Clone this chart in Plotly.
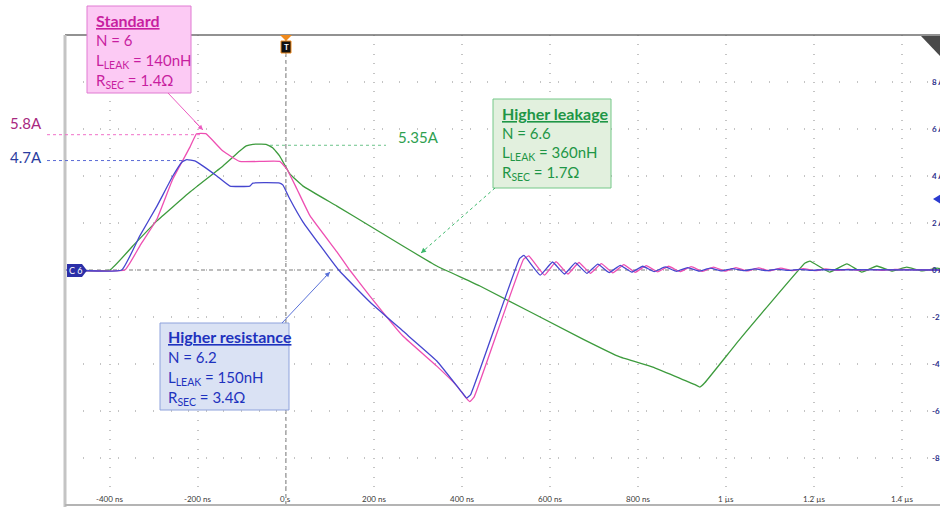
import plotly.graph_objects as go

std_t = [-502, -366, -332, -293, -257, -218, -203, -182, -143, -105, -14, 2, 25, 55, 116, 145, 191, 266, 343,
         389, 410, 418, 428, 540, 552, 588, 614, 641, 666, 692, 717, 743, 768, 794, 819, 845, 870, 896, 921,
         947, 972, 998, 1023, 1049, 1074, 1100, 1125, 1151, 1176, 1202, 1227, 1253, 1278, 1304, 1329, 1355,
         1380, 1490]
std_i = [0, 0, 1.02, 2.17, 3.87, 5.23, 5.8, 5.8, 5.06, 4.62, 4.62, 4.30, 3.45, 2.30, 0.77, 0, -1.11, -2.81,
         -4.09, -4.94, -5.45, -5.6, -5.4, 0.45, 0.6, -0.22, 0.36, -0.17, 0.32, -0.14, 0.27, -0.12, 0.23, -0.10,
         0.19, -0.08, 0.16, -0.07, 0.14, -0.06, 0.12, -0.05, 0.10, -0.04, 0.09, -0.04, 0.08, -0.03, 0.06, -0.03,
         0.05, -0.02, 0.04, -0.02, 0.03, -0.01, 0.02, 0]

res_t = [-502, -373, -332, -293, -257, -236, -225, -207, -189, -157, -127, -82, -75, -14, -7, 9, 39, 120, 191,
         266, 343, 400, 411, 420, 531, 541, 578, 606, 633, 658, 684, 709, 735, 760, 786, 811, 837, 862, 888,
         913, 939, 964, 990, 1015, 1041, 1066, 1092, 1117, 1143, 1168, 1194, 1219, 1490]
res_i = [0, 0, 1.45, 2.72, 4.0, 4.6, 4.7, 4.64, 4.43, 4.0, 3.57, 3.57, 3.70, 3.70, 3.62, 3.02, 2.04, 0, -1.36,
         -2.6, -3.87, -5.2, -5.45, -5.3, 0.48, 0.62, -0.22, 0.34, -0.17, 0.30, -0.14, 0.25, -0.11, 0.20, -0.09,
         0.16, -0.07, 0.13, -0.06, 0.10, -0.05, 0.08, -0.04, 0.06, -0.03, 0.05, -0.03, 0.04, -0.02, 0.03, -0.02,
         0.02, 0]

leak_t = [-502, -400, -348, -293, -218, -143, -105, -90, -75, -45, -30, -14, 9, 39, 116, 191, 266, 343, 441,
          675, 759, 834, 930, 941, 952, 1032, 1180, 1191, 1236, 1275, 1309, 1343, 1377, 1411, 1445, 1480, 1490]
leak_i = [0, 0, 1.02, 2.09, 3.32, 4.43, 5.06, 5.28, 5.35, 5.35, 5.2, 4.85, 4.09, 3.57, 2.72, 1.87, 1.02, 0.17,
          -0.68, -2.94, -3.70, -4.13, -4.88, -4.98, -4.8, -2.94, 0.3, 0.38, -0.09, 0.26, -0.09, 0.17, -0.05,
          0.12, -0.04, 0.08, 0.05]

x_ticks = [-400, -200, 0, 200, 400, 600, 800, 1000, 1200, 1400]
x_tick_text = ["-400 ns", "-200 ns", "0 s", "200 ns", "400 ns", "600 ns", "800 ns", "1 µs", "1.2 µs", "1.4 µs"]
y_ticks = [8, 6, 4, 2, 0, -2, -4, -6, -8]
y_tick_text = ["8 A", "6 A", "4 A", "2 A", "0 A", "-2 A", "-4 A", "-6 A", "-8 A"]

peak_std, peak_res, peak_leak = 5.8, 4.7, 5.35

W, H = 940, 507
L, R, T, B = 65, 0, 35, 2
X0 = -502
X1 = X0 + (W - L - R) / 88 * 200

PINK = "#ee4fb2"
BLUE = "#4646cf"
GREEN = "#3d9b3d"
FONT = "Lato"


def px(x):
    return (x - L) / (W - L - R)


def py(y):
    return (H - B - y) / (H - T - B)


fig = go.Figure()
for t, i, col in [(leak_t, leak_i, GREEN), (std_t, std_i, PINK), (res_t, res_i, BLUE)]:
    fig.add_trace(go.Scatter(x=t, y=i, mode="lines", line=dict(color=col, width=1.3, shape="spline", smoothing=0.3),
                             hoverinfo="skip"))

shapes = [
    # centre cross
    dict(type="line", xref="x", yref="paper", x0=0, x1=0, y0=0, y1=1,
         line=dict(color="#8a8a8a", width=1.2, dash="4px,3px"), layer="below"),
    dict(type="line", xref="paper", yref="y", x0=0, x1=1, y0=0, y1=0,
         line=dict(color="#a6a6a6", width=1.6, dash="4px,4px"), layer="below"),
    # frame
    dict(type="line", xref="paper", yref="paper", x0=0, x1=1, y0=1, y1=1, line=dict(color="#6e6e6e", width=1.5)),
    dict(type="line", xref="paper", yref="paper", x0=0, x1=0, y0=py(507), y1=1, line=dict(color="#c4c4c4", width=3)),
    dict(type="line", xref="paper", yref="paper", x0=0, x1=1, y0=0, y1=0, line=dict(color="#b4b4b4", width=2)),
    # peak reference lines
    dict(type="line", xref="paper", yref="paper", x0=px(47), x1=px(201), y0=py(271 - peak_std * 23.5),
         y1=py(271 - peak_std * 23.5), line=dict(color="#f070c8", width=1, dash="dot")),
    dict(type="line", xref="paper", yref="paper", x0=px(47), x1=px(186), y0=py(271 - peak_res * 23.5),
         y1=py(271 - peak_res * 23.5), line=dict(color="#5a6ad6", width=1, dash="dot")),
    dict(type="line", xref="paper", yref="paper", x0=px(270), x1=px(386), y0=py(271 - peak_leak * 23.5),
         y1=py(271 - peak_leak * 23.5), line=dict(color="#6cc48a", width=1, dash="dot")),
    # label boxes
    dict(type="rect", xref="paper", yref="paper", x0=px(87), x1=px(191), y0=py(6), y1=py(93),
         fillcolor="#fccaf4", line=dict(color="#e07ad2", width=1)),
    dict(type="rect", xref="paper", yref="paper", x0=px(493), x1=px(611), y0=py(99), y1=py(188),
         fillcolor="#e2f0de", line=dict(color="#74c888", width=1)),
    dict(type="rect", xref="paper", yref="paper", x0=px(160), x1=px(289), y0=py(323), y1=py(410),
         fillcolor="#dae2f4", line=dict(color="#8ea2dc", width=1)),
    # pointer lines
    dict(type="line", xref="paper", yref="paper", x0=px(168), y0=py(93), x1=px(203), y1=py(130),
         line=dict(color="#ec5cc0", width=1)),
    dict(type="line", xref="paper", yref="paper", x0=px(495), y0=py(188), x1=px(421), y1=py(253),
         line=dict(color="#3cb86a", width=1, dash="dot")),
    dict(type="line", xref="paper", yref="paper", x0=px(282), y0=py(323), x1=px(330), y1=py(272),
         line=dict(color="#5a72d8", width=1)),
    # trigger marker
    dict(type="path", xref="paper", yref="paper",
         path=f"M {px(280)},{py(35)} L {px(292)},{py(35)} L {px(286)},{py(41)} Z",
         fillcolor="#f08a1c", line=dict(width=0)),
    dict(type="rect", xref="paper", yref="paper", x0=px(281), x1=px(291), y0=py(41), y1=py(53),
         fillcolor="#111111", line=dict(color="#f08a1c", width=1)),
    # channel tag
    dict(type="path", xref="paper", yref="paper",
         path=(f"M {px(67)},{py(264)} L {px(82)},{py(264)} L {px(87)},{py(270.5)} "
               f"L {px(82)},{py(277)} L {px(67)},{py(277)} Z"),
         fillcolor="#2b2fa8", line=dict(width=0)),
    # corner icon and level marker
    dict(type="path", xref="paper", yref="paper",
         path=f"M {px(921)},{py(36)} L {px(940)},{py(36)} L {px(940)},{py(56)} Z",
         fillcolor="#4a4a4a", line=dict(width=0)),
    dict(type="path", xref="paper", yref="paper",
         path=f"M {px(933)},{py(199)} L {px(941)},{py(194)} L {px(941)},{py(204)} Z",
         fillcolor="#2b3bd0", line=dict(width=0)),
]

annotations = []


def text(x, y, s, color, size=15, anchor="left"):
    annotations.append(dict(x=px(x), y=py(y), xref="paper", yref="paper", text=s, showarrow=False,
                            xanchor=anchor, yanchor="middle", font=dict(family=FONT, size=size, color=color)))


def head(x0, y0, x1, y1, color):
    annotations.append(dict(x=px(x1), y=py(y1), xref="paper", yref="paper", ax=x0 - x1, ay=y0 - y1,
                            axref="pixel", ayref="pixel", text=" ", showarrow=True, arrowhead=2,
                            arrowsize=1, arrowwidth=1, arrowcolor=color))


# box texts
c = "#c81ea0"
text(94, 20, "<b><u>Standard</u></b>", c, size=16)
text(94, 40, "N = 6", c)
text(94, 61, "L<sub>LEAK</sub> = 140nH", c)
text(94, 81, "R<sub>SEC</sub> = 1.4Ω", c)
c = "#1e9646"
text(500, 113, "<b><u>Higher leakage</u></b>", c, size=16)
text(500, 133, "N = 6.6", c)
text(500, 153, "L<sub>LEAK</sub> = 360nH", c)
text(500, 173, "R<sub>SEC</sub> = 1.7Ω", c)
c = "#1e32be"
text(166, 337, "<b><u>Higher resistance</u></b>", c, size=16)
text(166, 357, "N = 6.2", c)
text(166, 378, "L<sub>LEAK</sub> = 150nH", c)
text(166, 398, "R<sub>SEC</sub> = 3.4Ω", c)

# peak labels
text(8, 123, "5.8A", "#a8287f")
text(8, 157, "4.7A", "#2a3ca0")
text(396, 137, "5.35A", "#2ea050")

head(191, 118, 203, 130, "#ec5cc0")
head(428, 247, 421, 253, "#3cb86a")
head(322, 280, 330, 272, "#5a72d8")

# marker texts
text(286, 47, "<b>T</b>", "#ffffff", size=8, anchor="center")
text(76, 270.5, "C 6", "#ffffff", size=9, anchor="center")

# axis labels inside the graticule
for v, s in zip(x_ticks, x_tick_text):
    annotations.append(dict(x=v, y=py(499), xref="x", yref="paper", text=s, showarrow=False,
                            xanchor="center", yanchor="middle",
                            font=dict(family=FONT, size=8, color="#3a3a3a")))
for v, s in zip(y_ticks, y_tick_text):
    annotations.append(dict(x=px(930), y=v, xref="paper", yref="y", text="<b>" + s + "</b>", showarrow=False,
                            xanchor="left", yanchor="middle",
                            font=dict(family=FONT, size=8, color="#2b2f8a")))

fig.update_layout(
    width=W,
    height=H,
    margin=dict(l=L, r=R, t=T, b=B),
    paper_bgcolor="white",
    plot_bgcolor="white",
    showlegend=False,
    shapes=shapes,
    annotations=annotations,
    xaxis=dict(range=[X0, X1], tickvals=x_ticks, showticklabels=False, showgrid=True,
               gridcolor="#c4c4c4", gridwidth=1.5, griddash="1px,8.4px", zeroline=False, showline=False,
               ticks="", fixedrange=True),
    yaxis=dict(range=[-10, 10], tickvals=y_ticks, showticklabels=False, showgrid=True,
               gridcolor="#c4c4c4", gridwidth=1.5, griddash="1px,16.6px", zeroline=False, showline=False,
               ticks="", fixedrange=True),
)

# drop the default page margin so the figure sits at the window's corner
fig.write_html("out.html", config={"displayModeBar": False},
               post_script="document.body.style.margin='0';document.body.style.overflow='hidden';")
